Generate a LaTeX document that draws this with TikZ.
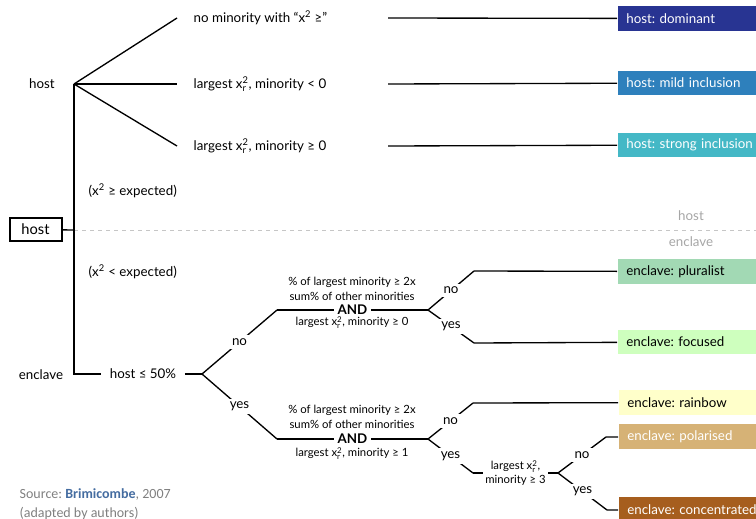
\documentclass[tikz,border=0pt]{standalone}
\usepackage{amsmath}
\usepackage{fontspec}
\setmainfont{Lato}
\newfontfamily\srcfont{Carlito}
\frenchspacing

\definecolor{cdom}{RGB}{40,52,146}
\definecolor{cmild}{RGB}{46,128,188}
\definecolor{cstrong}{RGB}{68,184,198}
\definecolor{cplur}{RGB}{162,217,180}
\definecolor{cfoc}{RGB}{206,255,190}
\definecolor{crain}{RGB}{255,255,202}
\definecolor{cpol}{RGB}{214,178,118}
\definecolor{cconc}{RGB}{166,94,30}
\definecolor{srcblue}{RGB}{68,108,160}

\newcommand{\xsqr}{x$^{\text{2}}_{\text{r}}$}

\begin{document}
\begin{tikzpicture}[x=0.75pt,y=-0.75pt,line width=1pt,
  every node/.style={inner sep=0pt, font=\fontsize{10}{11}\selectfont},
  lbl/.style={fill=white, inner sep=2.5pt},
  small/.style={font=\fontsize{8.5}{11}\selectfont, align=center},
  catbox/.style={anchor=west, minimum height=18.5pt, text width=97pt, inner xsep=6.5pt, align=left}]
      \useasboundingbox (0,0) rectangle (756,518);
      \node (host) at (42,84) {host};
      \node (encl) at (41,375) {enclave};
      \node[draw, line width=1.5pt, minimum width=39pt, minimum height=17pt] (root) at (35.5,229.5) {\fontsize{11}{12}\selectfont host};
      \coordinate (hs) at (74,84);
      \coordinate (hm) at (74,230);
      \draw (root) -- (hm);
      \draw [gray!45, dashed, line width=0.6pt] (hm) -- (756,230);
      \node [gray!70] (lhost) at (691,216) {host};
      \node [gray!70] (lencl) at (691,242) {enclave};
      \node [anchor=west] (exp1) at (88,191) {(x\textsuperscript{2} ≥ expected)};
      \node [anchor=west] (exp2) at (88,272) {(x\textsuperscript{2} < expected)};
      \node [anchor=west] (tdom) at (193,18) {no minority with “x\textsuperscript{2} ≥”};
      \node [anchor=west] (tmild) at (193,84) {largest \xsqr, minority < 0};
      \node [anchor=west] (tstrong) at (193,146) {largest \xsqr, minority ≥ 0};
      \coordinate (doma) at (177,18);
      \coordinate (domb) at (388,18);
      \coordinate (milda) at (177,84);
      \coordinate (mildb) at (388,84);
      \coordinate (stronga) at (177,146);
      \coordinate (strongb) at (388,146);
      \node [catbox, fill=cdom, text=white] (bdom) at (617,18.5) {host: dominant};
      \node [catbox, fill=cmild, text=white] (bmild) at (617,83) {host: mild inclusion};
      \node [catbox, fill=cstrong, text=white] (bstrong) at (617,145) {host: strong inclusion};
      \draw (hs) -- (doma);
      \draw (hs) -- (milda);
      \draw (hs) -- (stronga);
      \draw (domb) -- (bdom);
      \draw (mildb) -- (bmild);
      \draw (strongb) -- (bstrong);
      \node [inner xsep=6pt, inner ysep=2pt] (h50) at (143,374) {host ≤ 50\%};
      \draw (hs) |- (h50);
      \coordinate (b1) at (202,374);
      \draw (h50) -- (b1);
      \coordinate (c1) at (277,310);
      \coordinate (c2) at (428,310);
      \coordinate (c3) at (474,271);
      \coordinate (c4) at (474,343);
      \coordinate (c5) at (277,439);
      \coordinate (c6) at (428,439);
      \coordinate (c7) at (473,403);
      \coordinate (c8) at (473,473);
      \coordinate (c9) at (558,473);
      \coordinate (c10) at (606,437);
      \coordinate (c11) at (607,510);
      \node [catbox, fill=cplur] (bplur) at (617,271.5) {enclave: pluralist};
      \node [catbox, fill=cfoc] (bfoc) at (617,342) {enclave: focused};
      \node [catbox, fill=crain] (brain) at (618,402.5) {enclave: rainbow};
      \node [catbox, fill=cpol, text=white] (bpol) at (618,436.5) {enclave: polarised};
      \node [catbox, fill=cconc, text=white] (bconc) at (618,509.5) {enclave: concentrated};
      \draw (b1) -- node [lbl] (no1) {no} (c1);
      \draw (b1) -- node [lbl] (yes1) {yes} (c5);
      \draw (c1) -- node [lbl, inner ysep=0.5pt, font=\fontsize{10}{11}\selectfont\bfseries] (and1) {AND} (c2);
      \node [small] (cond1a) at (352,289) {\% of largest minority ≥ 2x\\sum\% of other minorities};
      \node [small] (cond1b) at (352,322.5) {largest \xsqr, minority ≥ 0};
      \draw (c2) -- node [lbl] (no2) {no} (c3);
      \draw (c2) -- node [lbl] (yes2) {yes} (c4);
      \draw (c3) -- (bplur);
      \draw (c4) -- (bfoc);
      \draw (c5) -- node [lbl, inner ysep=0.5pt, font=\fontsize{10}{11}\selectfont\bfseries] (and2) {AND} (c6);
      \node [small] (cond2a) at (352,417) {\% of largest minority ≥ 2x\\sum\% of other minorities};
      \node [small] (cond2b) at (352,453.5) {largest \xsqr, minority ≥ 1};
      \draw (c6) -- node [lbl] (no3) {no} (c7);
      \draw (c6) -- node [lbl] (yes3) {yes} (c8);
      \draw (c7) -- (brain);
      \draw (c8) -- node [lbl, small, inner xsep=2pt, font=\fontsize{8.5}{10.5}\selectfont] (cond3) {largest \xsqr,\\minority ≥ 3} (c9);
      \draw (c9) -- node [lbl] (no4) {no} (c10);
      \draw (c9) -- node [lbl] (yes4) {yes} (c11);
      \draw (c10) -- (bpol);
      \draw (c11) -- (bconc);
      \node [anchor=west, gray, font=\srcfont\fontsize{10.5}{12}\selectfont] (src) at (19,494) {Source: \textcolor{srcblue}{\bfseries Brimicombe}, 2007};
      \node [anchor=west, gray, font=\srcfont\fontsize{10.5}{12}\selectfont] (adapt) at (19,513) {(adapted by authors)};
\end{tikzpicture}
\end{document}
